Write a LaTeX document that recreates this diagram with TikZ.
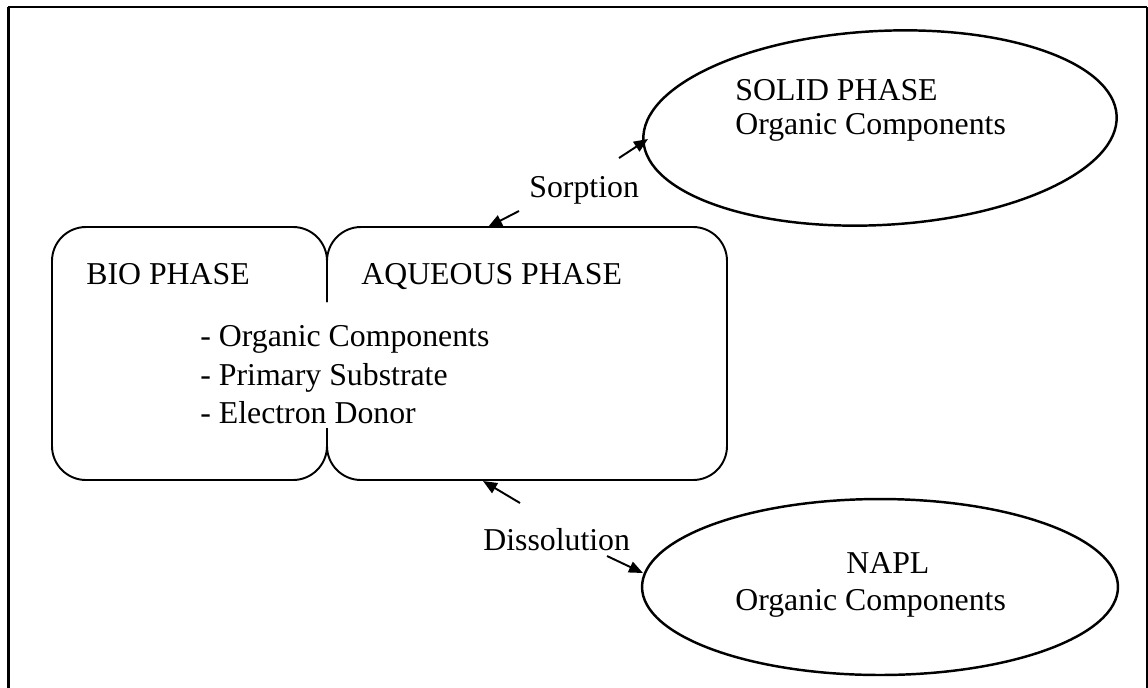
\documentclass[tikz,border=0pt]{standalone}
\usepackage{fontspec}
\setmainfont{Liberation Serif}
\usetikzlibrary{arrows.meta,shapes.geometric}
\begin{document}
\begin{tikzpicture}[x=0.02cm,y=-0.02cm,
  txt/.style={inner sep=0pt,anchor=base west,font=\fontsize{18.1}{21}\selectfont},
  phase/.style={draw,ellipse,line width=1.4pt,inner sep=0pt},
  boxline/.style={line width=1.1pt,rounded corners=0.68cm},
  flow/.style={line width=1.1pt,-{Triangle[length=8pt,width=6.5pt]}}]
\useasboundingbox (0,0) rectangle (1148,687);
% frame
\draw[line width=1.6pt] (8.5,700) -- (8.5,6.5);
\draw[line width=1.3pt] (7.7,7.3) -- (1147.3,7.3);
\draw[line width=0.6pt] (1147,7) -- (1147,700);
% ellipses
\node[phase,minimum width=9.48cm,minimum height=3.88cm,rotate=3] (solid) at (880,128) {};
\node[phase,minimum width=9.52cm,minimum height=3.52cm] (napl) at (880,587) {};
% bio / aqueous box
\draw[boxline] (327,302) -- (327,227) -- (52,227) -- (52,480) -- (327,480) -- (327,428);
\draw[boxline] (327,302) -- (327,227) -- (727,227) -- (727,480) -- (327,480) -- (327,428);
% texts
\node[txt] (bio) at (86,284) {BIO PHASE};
\node[txt] (aq) at (361,284) {AQUEOUS PHASE};
\node[txt] (l1) at (200,346) {- Organic Components};
\node[txt] (l2) at (200,385) {- Primary Substrate};
\node[txt] (l3) at (200,423) {- Electron Donor};
\node[txt] (sorp) at (529,197) {Sorption};
\node[txt] (diss) at (483,550) {Dissolution};
\node[txt] (st1) at (735,100) {SOLID PHASE};
\node[txt] (st2) at (735,134) {Organic Components};
\node[txt] (nt1) at (846,573) {NAPL};
\node[txt] (nt2) at (735,610) {Organic Components};
% arrows
\coordinate (a1t) at (619,158); \coordinate (a1h) at (648,139);
\coordinate (a2t) at (519,211); \coordinate (a2h) at (488,227);
\coordinate (a3t) at (520,503); \coordinate (a3h) at (483,481);
\coordinate (a4t) at (607,556); \coordinate (a4h) at (643,573);
\draw[flow] (a1t) -- (a1h);
\draw[flow] (a2t) -- (a2h);
\draw[flow] (a3t) -- (a3h);
\draw[flow] (a4t) -- (a4h);
\end{tikzpicture}
\end{document}
